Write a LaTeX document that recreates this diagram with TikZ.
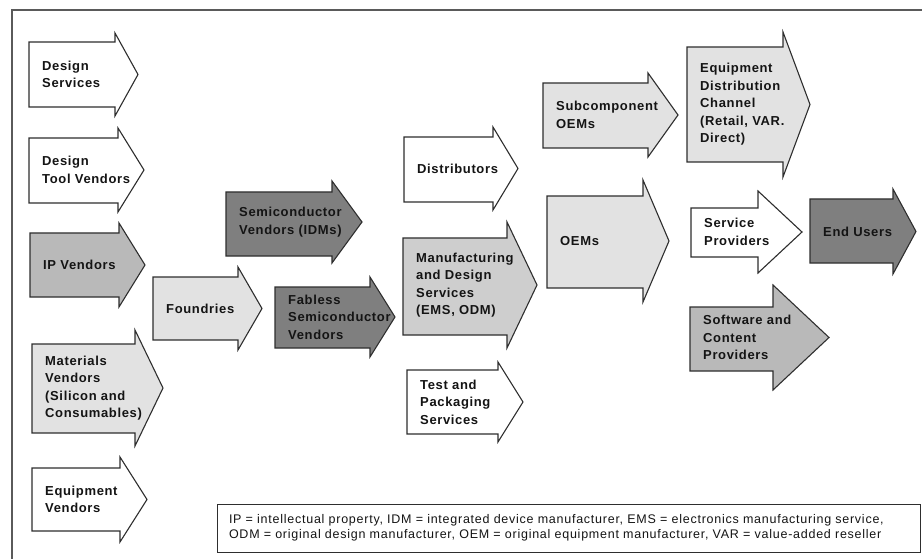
\documentclass[tikz,border=0pt]{standalone}
\usepackage{fontspec}
\setmainfont{Liberation Sans}
\newfontfamily\labelfont{Liberation Sans}[LetterSpace=5]
\newfontfamily\legendfont{Liberation Sans}[LetterSpace=6]

\definecolor{fillwhite}{HTML}{FFFFFF}
\definecolor{filllight}{HTML}{E2E2E2}
\definecolor{fillmanuf}{HTML}{CECECE}
\definecolor{fillmid}{HTML}{B9B9B9}
\definecolor{filldark}{HTML}{7F7F7F}
\definecolor{edgegray}{HTML}{2E2E2E}
\definecolor{framegray}{HTML}{5A5A5A}
\definecolor{inkblack}{HTML}{141414}

% geometry list: left, body top, body bottom, shaft end, head top, head bottom, tip
\def\chaingeom#1,#2,#3,#4,#5,#6,#7\relax{%
  \def\chL{#1}\def\chT{#2}\def\chB{#3}\def\chS{#4}%
  \def\chHT{#5}\def\chHB{#6}\def\chTip{#7}}

% block arrow of the supply chain with its label
\newcommand\chainarrow[4]{%
  \chaingeom#3\relax
  \draw[arrowedge, fill=#2]
    (\chL,\chT) -- (\chS,\chT) -- (\chS,\chHT)
    -- (\chTip,{(\chHT+\chHB)/2}) -- (\chS,\chHB) -- (\chS,\chB)
    -- (\chL,\chB) -- cycle;
  \node[arrowlabel] (#1) at ({\chL+13},{(\chHT+\chHB)/2}) {#4};
}

\begin{document}
\begin{tikzpicture}[x=1pt, y=-1pt,
  arrowedge/.style={draw=edgegray, line width=1.1pt, line join=miter},
  arrowlabel/.style={anchor=west, align=left, inner sep=0pt, text=inkblack,
    font={\labelfont\bfseries\fontsize{13}{17.5}\selectfont}},
  frameline/.style={draw=framegray, line width=1.6pt},
  legendbox/.style={draw=edgegray, line width=1pt, fill=white,
    minimum width=703pt, minimum height=48pt, inner xsep=12pt,
    text width=679pt, align=left, text=inkblack,
    font={\legendfont\fontsize{12.5}{15}\selectfont}}
]
\useasboundingbox (0,0) rectangle (922,559);

% outer frame (top and left edges)
\draw[frameline] (12,559) -- (12,10) -- (922,10);

% column 1: inputs
\chainarrow{design}{fillwhite}{29,42,107,115,33,116,138}{Design\\Services}
\chainarrow{tools}{fillwhite}{29,138,203,118,128,212,144}{Design\\Tool Vendors}
\chainarrow{ip}{fillmid}{30,233,297,119,223,307,145}{IP Vendors}
\chainarrow{materials}{filllight}{32,344,433,135,330,446,163}{Materials\\Vendors\\(Silicon and\\Consumables)}
\chainarrow{equipment}{fillwhite}{32,468,531,120,457,542,147}{Equipment\\Vendors}

% column 2: fabrication
\chainarrow{foundries}{filllight}{153,277,340,238,267,350,262}{Foundries}

% column 3: semiconductor vendors
\chainarrow{idm}{filldark}{226,192,256,332,181,263,362}{Semiconductor\\Vendors (IDMs)}
\chainarrow{fabless}{filldark}{275,287,348,370,277,357,395}{Fabless\\Semiconductor\\Vendors}

% column 4: distribution and manufacturing
\chainarrow{distributors}{fillwhite}{404,137,202,493,127,210,518}{Distributors}
\chainarrow{manufacturing}{fillmanuf}{403,238,335,507,222,348,537}{Manufacturing\\and Design\\Services\\(EMS, ODM)}
\chainarrow{test}{fillwhite}{407,370,434,498,362,442,523}{Test and\\Packaging\\Services}

% column 5: OEMs
\chainarrow{suboem}{filllight}{543,83,148,648,73,157,678}{Subcomponent\\OEMs}
\chainarrow{oems}{filllight}{547,196,288,643,180,302,669}{OEMs}

% column 6: channels and providers
\chainarrow{channel}{filllight}{687,47,162,783,32,177,810}{Equipment\\Distribution\\Channel\\(Retail, VAR.\\Direct)}
\chainarrow{service}{fillwhite}{691,208,257,758,191,273,802}{Service\\Providers}
\chainarrow{software}{fillmid}{690,307,371,773,285,390,829}{Software and\\Content\\Providers}

% column 7: end users
\chainarrow{endusers}{filldark}{810,199,263,893,189,274,916}{End Users}

% abbreviations
\node[legendbox] (legend) at (568.5,528)
  {IP = intellectual property, IDM = integrated device manufacturer, EMS = electronics manufacturing service,\\
   ODM = original design manufacturer, OEM = original equipment manufacturer, VAR = value-added reseller};
\end{tikzpicture}
\end{document}
